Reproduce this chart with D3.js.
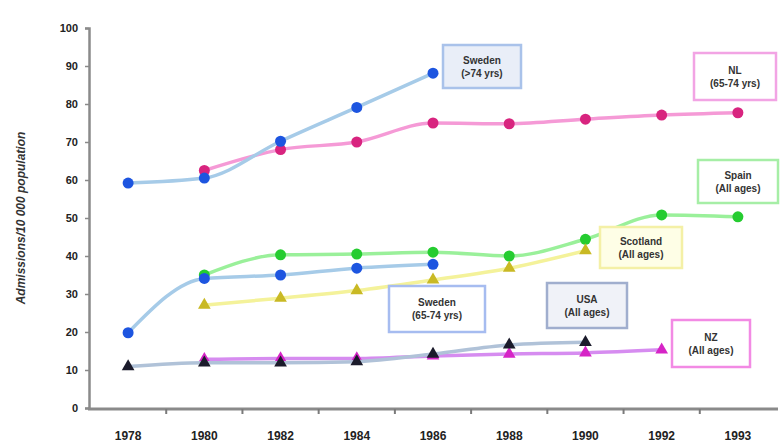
<!DOCTYPE html>
<html><head><meta charset="utf-8">
<script src="https://cdn.jsdelivr.net/npm/d3@7"></script>
<style>
html,body{margin:0;padding:0;background:#fff;}
svg{display:block;font-family:Arial,"Liberation Sans",sans-serif;}
</style></head>
<body><svg id="c" width="781" height="446"></svg>
<script>
const years = ["1978","1980","1982","1984","1986","1988","1990","1992","1993"];
const yTicks = [0,10,20,30,40,50,60,70,80,90,100];
const yTitle = "Admissions/10 000 population";

const nl          = [null, 62.5, 68, 70, 75, 74.8, 76, 77.1, 77.7];
const spain       = [null, 35, 40.3, 40.5, 41, 40, 44.4, 50.8, 50.3];
const scotland    = [null, 27.1, 28.9, 30.9, 33.7, 36.8, 41.4, null, null];
const nz          = [null, 12.8, 13, 13, 13.7, 14.2, 14.5, 15.3, null];
const swedenOld   = [59.2, 60.5, 70.2, 79.1, 88.1, null, null, null, null];
const swedenMid   = [19.8, 34.1, 35, 36.8, 37.8, null, null, null, null];
const usa         = [10.9, 11.9, 11.9, 12.2, 14.2, 16.6, 17.3, null, null];

const series = [
  {name:"NL", values:nl, line:"#f59ad6", mark:"#d8247f", shape:"circle"},
  {name:"Spain", values:spain, line:"#9af09a", mark:"#25cc30", shape:"circle"},
  {name:"Scotland", values:scotland, line:"#f4f29a", mark:"#c9b924", shape:"triangle"},
  {name:"NZ", values:nz, line:"#d68cf0", mark:"#d624c6", shape:"triangle"},
  {name:"Sweden old", values:swedenOld, line:"#a6cbe8", mark:"#1d55e0", shape:"circle"},
  {name:"Sweden mid", values:swedenMid, line:"#a6cbe8", mark:"#1d55e0", shape:"circle"},
  {name:"USA", values:usa, line:"#b0c2d8", mark:"#1b1b2b", shape:"triangle"}
];

const labels = [
  {l1:"Sweden", l2:"(>74 yrs)", x:443, y:45, w:78, h:43, stroke:"#a9c2ea", fill:"#e9eef8"},
  {l1:"NL", l2:"(65-74 yrs)", x:694, y:53, w:82, h:47, stroke:"#f2a4e4", fill:"#ffffff"},
  {l1:"Spain", l2:"(All ages)", x:698, y:160, w:80, h:43, stroke:"#a6eea6", fill:"#ffffff"},
  {l1:"Scotland", l2:"(All ages)", x:600, y:227, w:82, h:41, stroke:"#f4f0a6", fill:"#fefee6"},
  {l1:"Sweden", l2:"(65-74 yrs)", x:389, y:286, w:96, h:46, stroke:"#a6bcf0", fill:"#ffffff"},
  {l1:"USA", l2:"(All ages)", x:547, y:283, w:80, h:45, stroke:"#a0aece", fill:"#f0f2f8"},
  {l1:"NZ", l2:"(All ages)", x:672, y:320, w:78, h:47, stroke:"#f28ae4", fill:"#ffffff"}
];

const svg = d3.select("#c");
const x = d3.scaleBand().domain(years).range([90, 776]).paddingInner(0).paddingOuter(0);
const y = d3.scaleLinear().domain([0, 100]).range([408, 28]);
const cx = d => x(d) + x.bandwidth()/2;

// y axis
const yAxis = svg.append("g").attr("transform","translate(89,0)")
  .call(d3.axisLeft(y).tickValues(yTicks).tickSize(4).tickPadding(7));
yAxis.select(".domain").attr("stroke","#8a8a8a").attr("stroke-width",2.5);
yAxis.selectAll(".tick line").attr("stroke","#8a8a8a").attr("stroke-width",1.5);
yAxis.selectAll(".tick text").attr("font-size",11).attr("font-weight","bold").attr("fill","#222");

// x axis
const xAxis = svg.append("g").attr("transform","translate(0,409)")
  .call(d3.axisBottom(x).tickSize(0).tickPadding(22));
xAxis.select(".domain").attr("d","M88,0H778").attr("stroke","#8a8a8a").attr("stroke-width",3);
xAxis.selectAll(".tick text").attr("font-size",12).attr("font-weight","bold").attr("fill","#222");
svg.append("g").selectAll("line").data(years.slice(1)).join("line")
  .attr("x1",d=>x(d)).attr("x2",d=>x(d)).attr("y1",409).attr("y2",414)
  .attr("stroke","#7a7a7a").attr("stroke-width",2);

// y title
svg.append("text").attr("transform","translate(25,218) rotate(-90)")
  .attr("text-anchor","middle").attr("font-size",12).attr("font-weight","bold")
  .attr("font-style","italic").attr("fill","#333").text(yTitle);

// lines and markers
const line = d3.line().defined(d=>d.v!=null).x(d=>cx(d.c)).y(d=>y(d.v)).curve(d3.curveMonotoneX);
const tri = d3.symbol().type(d3.symbolTriangle).size(70);
series.forEach(s=>{
  const pts = years.map((c,i)=>({c, v:s.values[i]}));
  svg.append("path").datum(pts).attr("d",line).attr("fill","none")
    .attr("stroke",s.line).attr("stroke-width",3.5).attr("stroke-linejoin","round");
  const g = svg.append("g");
  const valid = pts.filter(d=>d.v!=null);
  if (s.shape==="circle") {
    g.selectAll("circle").data(valid).join("circle")
      .attr("cx",d=>cx(d.c)).attr("cy",d=>y(d.v)).attr("r",5.5).attr("fill",s.mark);
  } else {
    g.selectAll("path").data(valid).join("path").attr("d",tri)
      .attr("transform",d=>`translate(${cx(d.c)},${y(d.v)})`).attr("fill",s.mark);
  }
});

// annotation boxes
const lg = svg.append("g").selectAll("g").data(labels).join("g");
lg.append("rect").attr("x",d=>d.x).attr("y",d=>d.y).attr("width",d=>d.w).attr("height",d=>d.h)
  .attr("fill",d=>d.fill).attr("stroke",d=>d.stroke).attr("stroke-width",2.5);
lg.append("text").attr("x",d=>d.x+d.w/2).attr("y",d=>d.y+d.h/2-3).attr("text-anchor","middle")
  .attr("font-size",10).attr("font-weight","bold").attr("fill","#333").text(d=>d.l1);
lg.append("text").attr("x",d=>d.x+d.w/2).attr("y",d=>d.y+d.h/2+10).attr("text-anchor","middle")
  .attr("font-size",10).attr("font-weight","bold").attr("fill","#333").text(d=>d.l2);
</script></body></html>
